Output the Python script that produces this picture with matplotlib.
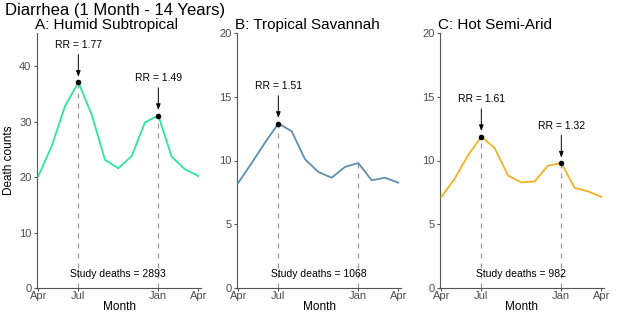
import matplotlib.pyplot as plt

plt.rcParams['font.family'] = ['Liberation Sans', 'DejaVu Sans']

months = ['Apr', 'May', 'Jun', 'Jul', 'Aug', 'Sep', 'Oct', 'Nov', 'Dec', 'Jan', 'Feb', 'Mar', 'Apr']
tick_pos = [0, 3, 9, 12]
tick_labels = ['Apr', 'Jul', 'Jan', 'Apr']

humid = [20.2, 25.6, 32.8, 37.1, 31.3, 23.1, 21.6, 23.8, 29.9, 31.1, 23.7, 21.4, 20.2]
savannah = [8.26, 9.8, 11.4, 12.9, 12.3, 10.1, 9.1, 8.65, 9.5, 9.8, 8.45, 8.65, 8.26]
semiarid = [7.15, 8.57, 10.4, 11.87, 10.97, 8.83, 8.28, 8.36, 9.6, 9.79, 7.85, 7.58, 7.15]

titles = ['A: Humid Subtropical', 'B: Tropical Savannah', 'C: Hot Semi-Arid']
study_deaths = [2893, 1068, 982]
# peak month index -> RR label
rr_labels = [{3: 'RR = 1.77', 9: 'RR = 1.49'}, {3: 'RR = 1.51'}, {3: 'RR = 1.61', 9: 'RR = 1.32'}]
colors = ['#2EE59D', '#5F8FB0', '#EEB422']
ytops = [46, 20, 20]
yticks = [[0, 10, 20, 30, 40], [0, 5, 10, 15, 20], [0, 5, 10, 15, 20]]

W, H = 617, 316
fig = plt.figure(figsize=(W / 100, H / 100), dpi=100)

lefts = [37, 237, 440]
width = 164
top, bottom = 33, 288

series = [humid, savannah, semiarid]
gray = '#4D4D4D'

for i in range(3):
    ax = fig.add_axes([lefts[i] / W, 1 - bottom / H, width / W, (bottom - top) / H])
    y = series[i]
    x = list(range(len(y)))
    ax.plot(x, y, color=colors[i], lw=1.3, zorder=3)

    # dashed guides at Jul and Jan
    for m in (3, 9):
        ax.plot([m, m], [0, y[m]], color='#9A9A9A', lw=0.9, ls=(0, (4, 4)), zorder=2)

    for m, lab in rr_labels[i].items():
        ax.plot(m, y[m], 'o', color='black', ms=3, zorder=4)
        ax.annotate('', xy=(m, y[m]), xytext=(0, 20), textcoords='offset points',
                    xycoords='data',
                    arrowprops=dict(arrowstyle='-|>,head_length=0.35,head_width=0.13',
                                    color='black', lw=0.7, shrinkA=0, shrinkB=4))
        ax.annotate(lab, xy=(m, y[m]), xytext=(0, 27), textcoords='offset points',
                    ha='center', va='center', fontsize=7.5, color='black')

    ax.text(6, 0.055 * ytops[i], f'Study deaths = {study_deaths[i]}', ha='center',
            va='center', fontsize=7.5, color='black')

    ax.set_xlim(-0.1, 12.2)
    ax.set_ylim(0, ytops[i])
    ax.set_xticks(tick_pos)
    ax.set_xticklabels(tick_labels)
    ax.set_yticks(yticks[i])
    for s in ('top', 'right'):
        ax.spines[s].set_visible(False)
    for s in ('left', 'bottom'):
        ax.spines[s].set_color('#555555')
        ax.spines[s].set_linewidth(0.8)
    ax.tick_params(colors='#555555', labelcolor=gray, labelsize=8, length=2, width=0.8, pad=0.5)
    ax.tick_params(axis='y', pad=2)
    ax.set_xlabel('Month', fontsize=8.5, labelpad=0)
    if i == 0:
        ax.set_ylabel('Death counts', fontsize=8.5, labelpad=3)
    ax.set_title(titles[i], loc='left', fontsize=11, pad=3, x=-0.01)

fig.text(5 / W, 1 - 10 / H, 'Diarrhea (1 Month - 14 Years)', fontsize=12, va='center', ha='left')

fig.savefig('out.png', dpi=100)
